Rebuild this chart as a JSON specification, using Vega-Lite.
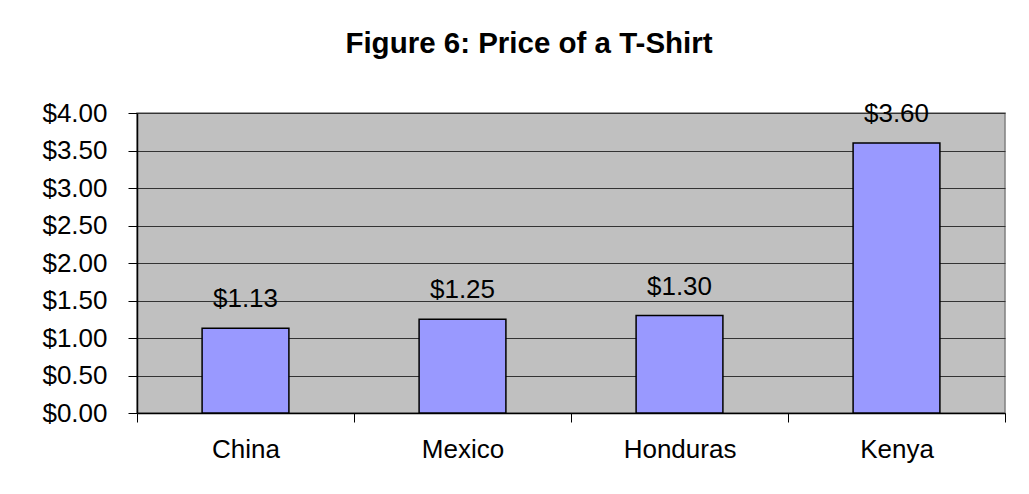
{
  "$schema": "https://vega.github.io/schema/vega-lite/v6.json",
  "autosize": {"type": "none"},
  "width": 868,
  "height": 300,
  "padding": {"left": 137, "top": 113, "right": 24, "bottom": 81},
  "background": "white",
  "title": {
    "text": "Figure 6: Price of a T-Shirt",
    "font": "Liberation Sans",
    "fontSize": 29.5,
    "fontWeight": "bold",
    "color": "black",
    "anchor": "middle",
    "frame": "group",
    "dx": -42,
    "offset": 41
  },
  "data": {
    "values": [
      {"country": "China", "price": 1.13},
      {"country": "Mexico", "price": 1.25},
      {"country": "Honduras", "price": 1.30},
      {"country": "Kenya", "price": 3.60}
    ]
  },
  "encoding": {
    "x": {
      "field": "country",
      "type": "nominal",
      "sort": null,
      "scale": {"paddingInner": 0, "paddingOuter": 0},
      "axis": {
        "title": null,
        "labelAngle": 0,
        "tickBand": "extent",
        "labelFont": "Liberation Sans",
        "labelFontSize": 26,
        "labelColor": "black",
        "labelPadding": 14,
        "tickSize": 9,
        "tickColor": "black",
        "domainColor": "black",
        "domainWidth": 1.5,
        "grid": false
      }
    },
    "y": {
      "field": "price",
      "type": "quantitative",
      "scale": {"domain": [0, 4], "nice": false},
      "axis": {
        "title": null,
        "values": [0, 0.5, 1, 1.5, 2, 2.5, 3, 3.5, 4],
        "format": "$.2f",
        "labelFont": "Liberation Sans",
        "labelFontSize": 26,
        "labelColor": "black",
        "labelPadding": 21,
        "tickSize": 9,
        "tickColor": "black",
        "domainColor": "black",
        "domainWidth": 1.5,
        "grid": true,
        "gridColor": "#333333",
        "gridWidth": 1
      }
    }
  },
  "layer": [
    {
      "mark": {"type": "bar", "width": {"band": 0.4}, "color": "#9999FF", "stroke": "black", "strokeWidth": 1.5}
    },
    {
      "mark": {"type": "text", "baseline": "alphabetic", "align": "center", "dy": -21, "font": "Liberation Sans", "fontSize": 26, "color": "black"},
      "encoding": {
        "text": {"field": "price", "type": "quantitative", "format": "$.2f"}
      }
    }
  ],
  "config": {
    "view": {"fill": "#C0C0C0", "stroke": "#808080", "strokeWidth": 1.5}
  }
}
